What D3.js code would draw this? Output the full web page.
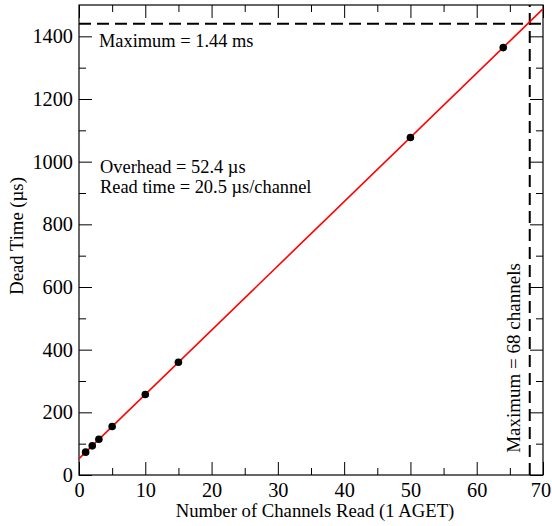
<!DOCTYPE html>
<html><head><meta charset="utf-8">
<script src="https://cdn.jsdelivr.net/npm/d3@7"></script>
<style>body{margin:0;background:#fff}svg{display:block}text{font-family:"Liberation Serif","Times New Roman",serif;fill:#000}</style>
</head><body>
<script>
const channels = [1, 2, 3, 5, 10, 15, 50, 64];
const deadTime = [73, 93, 114, 155, 257, 360, 1077, 1364];
const fitOverhead = 52.4;
const fitSlope = 20.5;
const maxTime = 1440;
const maxChannels = 68;
const xTicks = [0, 10, 20, 30, 40, 50, 60, 70];
const yTicks = [0, 200, 400, 600, 800, 1000, 1200, 1400];

const W = 552, H = 526;
const m = {l: 79, r: 9, t: 5, b: 51};
const svg = d3.select("body").append("svg").attr("width", W).attr("height", H);
const x = d3.scaleLinear().domain([0, 70]).range([m.l, W - m.r]);
const y = d3.scaleLinear().domain([0, 1500]).range([H - m.b, m.t]);

svg.append("clipPath").attr("id", "c").append("rect")
  .attr("x", x(0)).attr("y", y(1500)).attr("width", x(70) - x(0)).attr("height", y(0) - y(1500));

const xMinor = d3.range(5, 70, 10);
const yMinor = d3.range(100, 1500, 200);

function axisPair(makeAxis, tr, major, minor, labels) {
  const gMinor = svg.append("g").attr("transform", tr)
    .call(makeAxis().tickValues(minor).tickSize(-7).tickFormat(""));
  gMinor.select(".domain").remove();
  const gMajor = svg.append("g").attr("transform", tr)
    .call(makeAxis().tickValues(major).tickSize(-13).tickPadding(labels ? 6 : 0).tickFormat(labels ? d3.format("d") : ""));
  gMajor.select(".domain").remove();
  [gMinor, gMajor].forEach(g => g.selectAll("line").attr("stroke", "#000").attr("stroke-width", 1));
  gMajor.selectAll("text").style("font-size", "20.3px").style("font-family", '"Liberation Serif", serif').attr("fill", "#000");
  return gMajor;
}
const gb = axisPair(() => d3.axisBottom(x), `translate(0,${y(0)})`, xTicks, xMinor, true);
gb.selectAll("text").attr("dy", "0.71em").attr("y", 8).attr("x", d => d === 70 ? -2.5 : 0);
axisPair(() => d3.axisTop(x), `translate(0,${y(1500)})`, xTicks, xMinor, false);
const gl = axisPair(() => d3.axisLeft(y), `translate(${x(0)},0)`, yTicks, yMinor, true);
gl.selectAll("text").attr("x", -6);
axisPair(() => d3.axisRight(y), `translate(${x(70)},0)`, yTicks, yMinor, false);

svg.append("rect").attr("x", x(0)).attr("y", y(1500)).attr("width", x(70) - x(0)).attr("height", y(0) - y(1500))
  .attr("fill", "none").attr("stroke", "#000").attr("stroke-width", 1.2);

// dashed maximum lines
svg.append("line").attr("x1", x(0)).attr("x2", x(70)).attr("y1", y(maxTime)).attr("y2", y(maxTime))
  .attr("stroke", "#000").attr("stroke-width", 2).attr("stroke-dasharray", "12,6");
svg.append("line").attr("x1", x(maxChannels)).attr("x2", x(maxChannels)).attr("y1", y(0)).attr("y2", y(1500))
  .attr("stroke", "#000").attr("stroke-width", 2).attr("stroke-dasharray", "12,6");

// fit line
const fitX = [0, 70];
svg.append("path").datum(fitX).attr("clip-path", "url(#c)")
  .attr("d", d3.line().x(d => x(d)).y(d => y(fitOverhead + fitSlope * d)))
  .attr("stroke", "#ff0000").attr("stroke-width", 1.6).attr("fill", "none");

// points
svg.append("g").selectAll("circle").data(channels).join("circle")
  .attr("cx", d => x(d)).attr("cy", (d, i) => y(deadTime[i])).attr("r", 3.8).attr("fill", "#000");

// annotations
const fs = "18.4px";
svg.append("text").attr("x", 99).attr("y", 47).style("font-size", fs).text("Maximum = 1.44 ms");
svg.append("text").attr("x", 100).attr("y", 173).style("font-size", fs).text("Overhead = 52.4 \u00b5s");
svg.append("text").attr("x", 100).attr("y", 193).style("font-size", fs).text("Read time = 20.5 \u00b5s/channel");
svg.append("text").attr("transform", `translate(520,358) rotate(-90)`).attr("text-anchor", "middle")
  .style("font-size", "19px").text("Maximum = 68 channels");

// axis titles
svg.append("text").attr("x", 315).attr("y", 517).attr("text-anchor", "middle")
  .style("font-size", "18.7px").text("Number of Channels Read (1 AGET)");
svg.append("text").attr("transform", `translate(23,236) rotate(-90)`).attr("text-anchor", "middle")
  .style("font-size", "18.7px").text("Dead Time (\u00b5s)");
</script>
</body></html>
